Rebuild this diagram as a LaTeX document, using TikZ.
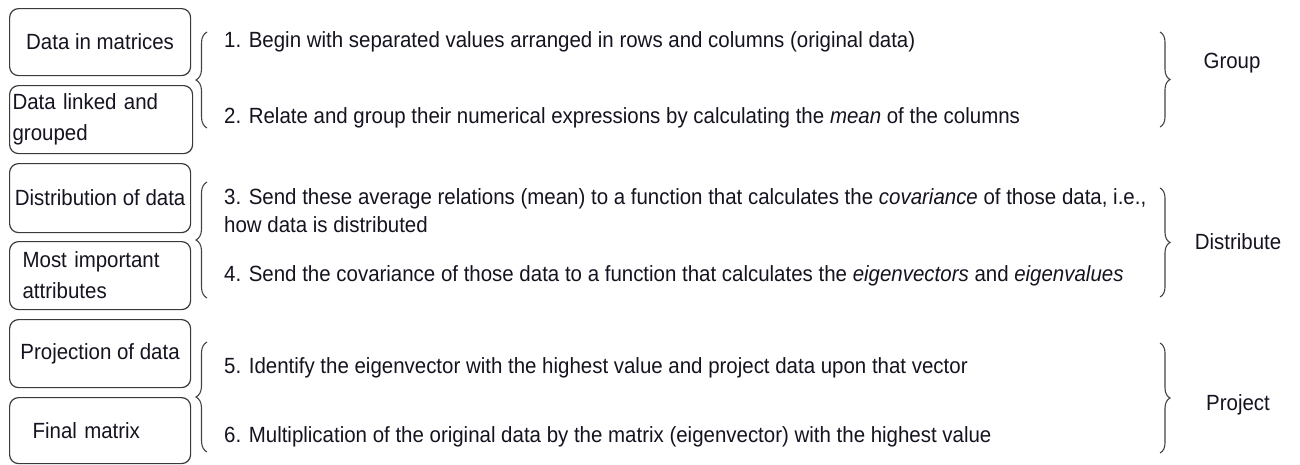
\documentclass[tikz,border=0pt]{standalone}
\usepackage{fontspec}
\setmainfont{Liberation Sans}[FakeStretch=0.93]
\usetikzlibrary{decorations.pathreplacing}
\definecolor{boxgray}{HTML}{3A3A3A}
\definecolor{bracegray}{HTML}{444444}
\definecolor{ink}{HTML}{141420}
\begin{document}
\begin{tikzpicture}[x=1pt,y=-1pt,
  box/.style={draw=boxgray, line width=1.2pt, rounded corners=9pt, minimum width=181pt,
    inner sep=0pt, anchor=north west, text=ink, font=\fontsize{22}{31}\selectfont},
  lbox/.style={box, align=left},
  lbrace/.style={draw=bracegray, line width=1.1pt, decorate, decoration={brace, amplitude=11pt}},
  rbrace/.style={draw=bracegray, line width=1.1pt, decorate, decoration={brace, amplitude=10pt}},
  txt/.style={anchor=west, inner sep=0pt, text=ink, align=left, font=\fontsize{22}{28}\selectfont},
  lab/.style={inner sep=0pt, text=ink, font=\fontsize{22}{28}\selectfont},
]
\useasboundingbox (0,0) rectangle (1300,464);

% boxes
\node[box, minimum height=67pt] (b1) at (9,8) {Data in matrices};
\node[lbox, minimum height=68pt, text width=177pt, inner xsep=3pt] (b2) at (9,85) {Data linked and\\grouped};
\node[box, minimum height=69pt] (b3) at (9,163) {Distribution of data};
\node[lbox, minimum height=68pt, text width=155pt, inner xsep=13pt] (b4) at (9,241) {Most important\\attributes};
\node[box, minimum height=68pt] (b5) at (9,319) {Projection of data};
\node[lbox, minimum height=66pt, text width=135pt, inner xsep=23pt] (b6) at (9,397) {Final matrix};

% left braces
\draw[lbrace] (207,128) -- (207,32);
\draw[lbrace] (207,298) -- (207,182);
\draw[lbrace] (207,452) -- (207,342);

% step texts
\node[txt] (t1) at (224,42) {1. Begin with separated values arranged in rows and columns (original data)};
\node[txt] (t2) at (224,118) {2. Relate and group their numerical expressions by calculating the \textit{mean} of the columns};
\node[txt] (t3) at (224,211) {3. Send these average relations (mean) to a function that calculates the \textit{covariance} of those data, i.e.,\\how data is distributed};
\node[txt] (t4) at (224,276) {4. Send the covariance of those data to a function that calculates the \textit{eigenvectors} and \textit{eigenvalues}};
\node[txt] (t5) at (224,368) {5. Identify the eigenvector with the highest value and project data upon that vector};
\node[txt] (t6) at (224,437) {6. Multiplication of the original data by the matrix (eigenvector) with the highest value};

% right braces
\draw[rbrace] (1160,32) -- (1160,127);
\draw[rbrace] (1160,188) -- (1160,297);
\draw[rbrace] (1160,343) -- (1160,453);

% phase labels
\node[lab] (g1) at (1232,63) {Group};
\node[lab] (g2) at (1238,242) {Distribute};
\node[lab] (g3) at (1238,405) {Project};
\end{tikzpicture}
\end{document}
